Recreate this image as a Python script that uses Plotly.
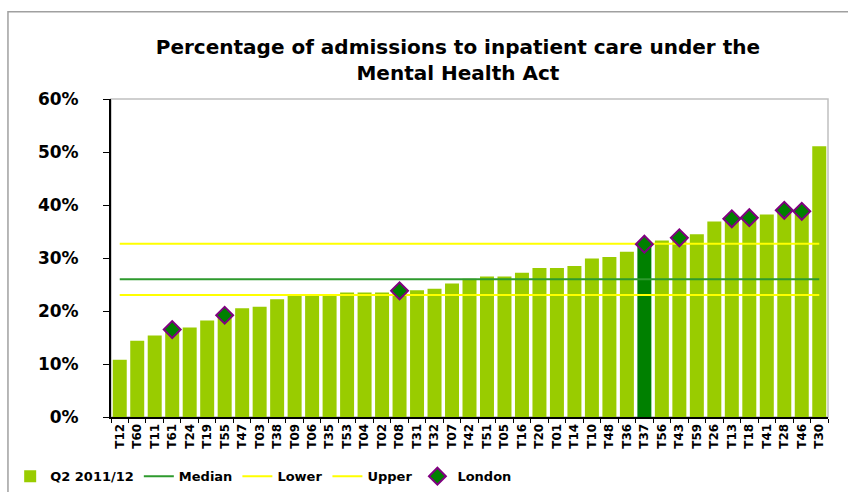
import plotly.graph_objects as go

categories = ["T12", "T60", "T11", "T61", "T24", "T19", "T55", "T47", "T03", "T38",
              "T09", "T06", "T35", "T53", "T04", "T02", "T08", "T31", "T32", "T07",
              "T42", "T51", "T05", "T16", "T20", "T01", "T14", "T10", "T48", "T36",
              "T37", "T56", "T43", "T59", "T26", "T13", "T18", "T41", "T28", "T46",
              "T30"]
values = [10.8, 14.4, 15.4, 16.5, 16.9, 18.2, 19.2, 20.5, 20.8, 22.2,
          23.0, 23.2, 23.2, 23.5, 23.5, 23.5, 23.8, 23.9, 24.2, 25.2,
          26.1, 26.5, 26.5, 27.2, 28.1, 28.1, 28.5, 29.9, 30.2, 31.2,
          32.6, 33.3, 33.8, 34.5, 36.9, 37.4, 37.6, 38.2, 39.0, 38.8,
          51.1]
median = 26.0
lower = 23.0
upper = 32.7
london = ["T61", "T55", "T08", "T37", "T43", "T13", "T18", "T28", "T46"]
highlight = "T37"

vals = [v / 100 for v in values]
bar_colors = ["#008000" if c == highlight else "#99CC00" for c in categories]
london_y = [vals[categories.index(c)] for c in london]

font = "DejaVu Sans"

fig = go.Figure()
fig.add_trace(go.Bar(x=categories, y=vals, name="Q2 2011/12",
                     marker=dict(color=bar_colors, line=dict(width=0))))
fig.add_trace(go.Scatter(x=categories, y=[median / 100] * len(categories), mode="lines",
                         name="Median", line=dict(color="#2E9A2E", width=2)))
fig.add_trace(go.Scatter(x=categories, y=[lower / 100] * len(categories), mode="lines",
                         name="Lower", line=dict(color="#FFFF00", width=2)))
fig.add_trace(go.Scatter(x=categories, y=[upper / 100] * len(categories), mode="lines",
                         name="Upper", line=dict(color="#FFFF00", width=2)))
fig.add_trace(go.Scatter(x=london, y=london_y, mode="markers", name="London",
                         marker=dict(symbol="diamond", size=13, color="#008000",
                                     line=dict(color="#800080", width=2))))

fig.update_layout(
    width=848, height=492,
    margin=dict(l=111, r=20, t=99, b=75),
    paper_bgcolor="white", plot_bgcolor="white",
    font=dict(family=font, color="black"),
    bargap=0.2,
    title=dict(text="<b>Percentage of admissions to inpatient care under the<br>Mental Health Act</b>",
               x=0.54, xanchor="center", y=0.89, yanchor="top",
               font=dict(size=20, family=font)),
    xaxis=dict(type="category", range=[-0.5, len(categories) - 0.5],
               showline=True, linecolor="black", linewidth=2,
               ticks="outside", tickson="boundaries", ticklen=4, tickcolor="black",
               tickangle=-90, tickfont=dict(size=12, family=font, weight="bold"),
               showgrid=False, automargin=False),
    yaxis=dict(range=[0, 0.6], dtick=0.1, tickformat=".0%", showline=True,
               linecolor="black", linewidth=2, ticks="outside", ticklen=6,
               tickcolor="black", showgrid=False, zeroline=False, automargin=False,
               ticklabelstandoff=21,
               tickfont=dict(size=17, family=font, weight="bold")),
    legend=dict(orientation="h", xref="container", yref="container",
                x=0.012, xanchor="left", y=0.032, yanchor="middle",
                font=dict(size=13, family=font, weight="bold"), traceorder="normal"),
    showlegend=True,
    shapes=[
        dict(type="rect", xref="paper", yref="paper", x0=0, x1=1, y0=0, y1=1,
             line=dict(color="#c0c0c0", width=1.5), layer="below"),
        dict(type="rect", xref="paper", yref="paper", x0=-0.1437, x1=1.05, y0=-0.3, y1=1.274,
             line=dict(color="#a0a0a0", width=1.5), layer="below"),
    ],
)

fig.write_html("out.html",
               config={"responsive": False, "displayModeBar": False},
               post_script="document.body.style.margin='0';document.body.style.overflow='hidden';")
